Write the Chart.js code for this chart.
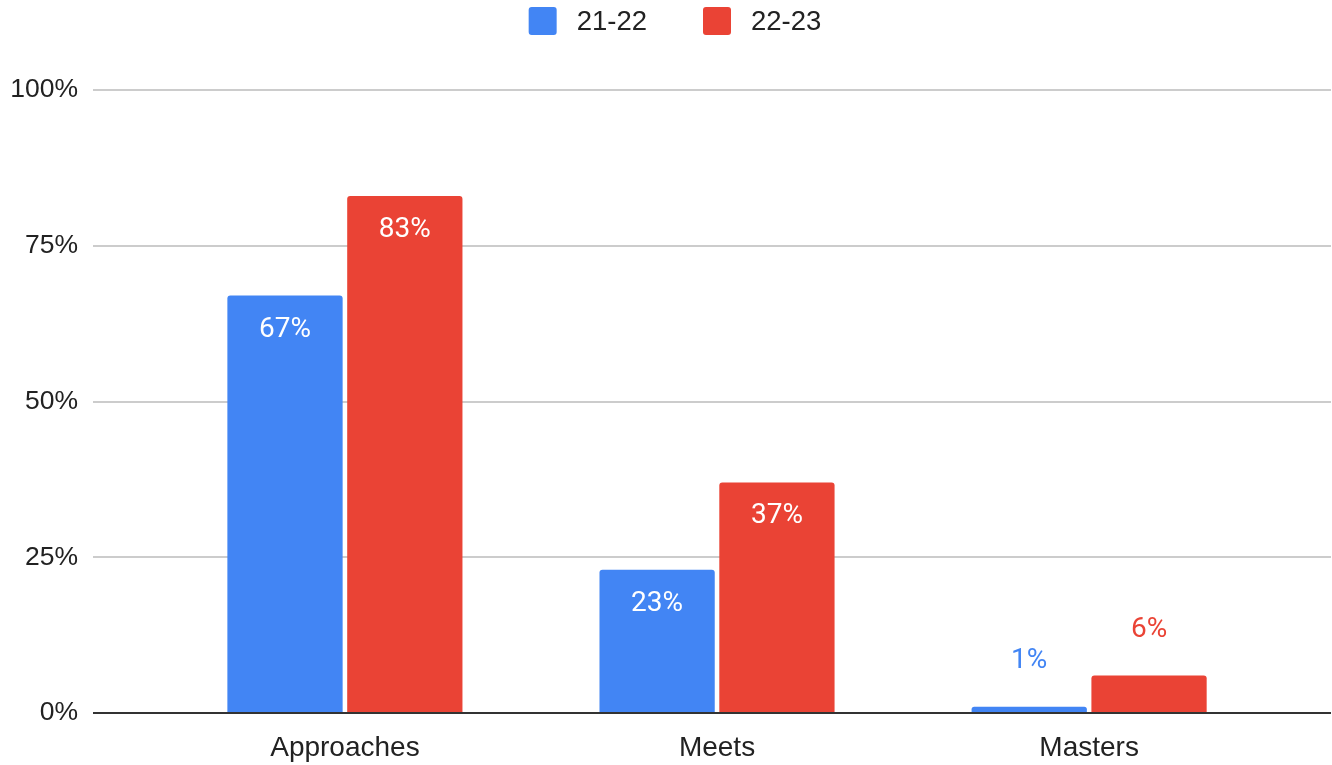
<!DOCTYPE html>
<html>
<head>
<meta charset="utf-8">
<script src="https://cdn.jsdelivr.net/npm/chart.js@4.4.1/dist/chart.umd.min.js"></script>
<style>
  html, body { margin: 0; padding: 0; background: #fff; }
  #wrap { width: 1332px; height: 765px; }
</style>
</head>
<body>
<div id="wrap"><canvas id="chart"></canvas></div>
<script>
  // niveles por año escolar
  const categories = ["Approaches", "Meets", "Masters"];
  const series2122 = [67, 23, 1];
  const series2223 = [83, 37, 6];
  const seriesNames = ["21-22", "22-23"];
  const yTicks = [0, 25, 50, 75, 100];

  const BLUE = "#4285F4";
  const RED = "#EA4335";
  const AXIS_FONT = "Liberation Sans, Arial, sans-serif";
  const LABEL_FONT = "Roboto, sans-serif";
  const X_MIN = -0.677;
  const X_MAX = 2.65;

  const toPoints = (arr) => arr.map((v, i) => ({ x: i, y: v }));

  // leyenda arriba, dibujada a mano
  const legendPlugin = {
    id: "topLegend",
    afterDraw(chart) {
      const ctx = chart.ctx;
      const box = 28, gapText = 20, gapItem = 56;
      ctx.save();
      ctx.font = "27.5px " + AXIS_FONT;
      const items = chart.data.datasets.map((d) => ({ label: d.label, color: d.backgroundColor, w: ctx.measureText(d.label).width }));
      const total = items.reduce((s, it) => s + box + gapText + it.w, 0) + gapItem * (items.length - 1);
      let x = 675 - total / 2;
      const cy = 21;
      items.forEach((it) => {
        ctx.fillStyle = it.color;
        ctx.beginPath();
        ctx.roundRect(x, cy - box / 2, box, box, 3);
        ctx.fill();
        x += box + gapText;
        ctx.fillStyle = "#222";
        ctx.textBaseline = "middle";
        ctx.fillText(it.label, x, cy + 1);
        x += it.w + gapItem;
      });
      ctx.restore();
    },
  };

  // etiquetas de valor + línea base encima de las barras
  const valuePlugin = {
    id: "valueLabels",
    afterDatasetsDraw(chart) {
      const ctx = chart.ctx;
      const y = chart.scales.y;
      const area = chart.chartArea;
      ctx.save();
      ctx.strokeStyle = "#333";
      ctx.lineWidth = 2;
      const base = Math.round(y.getPixelForValue(0));
      ctx.beginPath();
      ctx.moveTo(area.left, base);
      ctx.lineTo(area.right, base);
      ctx.stroke();

      ctx.font = "28px " + LABEL_FONT;
      ctx.textAlign = "center";
      ctx.textBaseline = "middle";
      chart.data.datasets.forEach((ds, di) => {
        chart.getDatasetMeta(di).data.forEach((bar, i) => {
          const v = ds.data[i].y;
          const txt = v + "%";
          if (v >= 10) {
            ctx.fillStyle = "#fff";
            ctx.fillText(txt, bar.x, bar.y + 34);
          } else {
            ctx.fillStyle = ds.backgroundColor;
            ctx.fillText(txt, bar.x, bar.y - 46);
          }
        });
      });
      ctx.restore();
    },
  };

  new Chart(document.getElementById("chart"), {
    type: "bar",
    data: {
      datasets: [
        { label: seriesNames[0], data: toPoints(series2122), backgroundColor: BLUE },
        { label: seriesNames[1], data: toPoints(series2223), backgroundColor: RED },
      ],
    },
    options: {
      responsive: true,
      maintainAspectRatio: false,
      animation: false,
      layout: { padding: { top: 90, right: 1, bottom: 0, left: 0 } },
      datasets: {
        bar: {
          categoryPercentage: 0.644,
          barPercentage: 0.962,
          borderRadius: 3,
        },
      },
      plugins: {
        legend: { display: false },
        tooltip: { enabled: false },
      },
      scales: {
        x: {
          type: "linear",
          min: X_MIN,
          max: X_MAX,
          offset: false,
          grid: { display: false, offset: false },
          border: { display: false },
          afterBuildTicks(scale) {
            scale.ticks = categories.map((_, i) => ({ value: i }));
            scale.min = X_MIN;
            scale.max = X_MAX;
          },
          afterFit(scale) {
            scale.height = 52;
          },
          ticks: {
            padding: 10,
            color: "#222",
            font: { family: AXIS_FONT, size: 28 },
            callback: (v) => categories[v] ?? "",
            maxRotation: 0,
            autoSkip: false,
          },
        },
        y: {
          min: 0,
          max: 100,
          afterBuildTicks(scale) {
            scale.ticks = yTicks.map((v) => ({ value: v }));
          },
          afterFit(scale) {
            scale.width = 93;
          },
          border: { display: false },
          grid: {
            color: (c) => (c.tick && c.tick.value === 0 ? "rgba(0,0,0,0)" : "#cccccc"),
            lineWidth: 2,
            tickLength: 0,
          },
          ticks: {
            padding: 15,
            color: "#222",
            font: { family: AXIS_FONT, size: 26.5 },
            callback: (v) => v + "%",
          },
        },
      },
    },
    plugins: [legendPlugin, valuePlugin],
  });
</script>
</body>
</html>
